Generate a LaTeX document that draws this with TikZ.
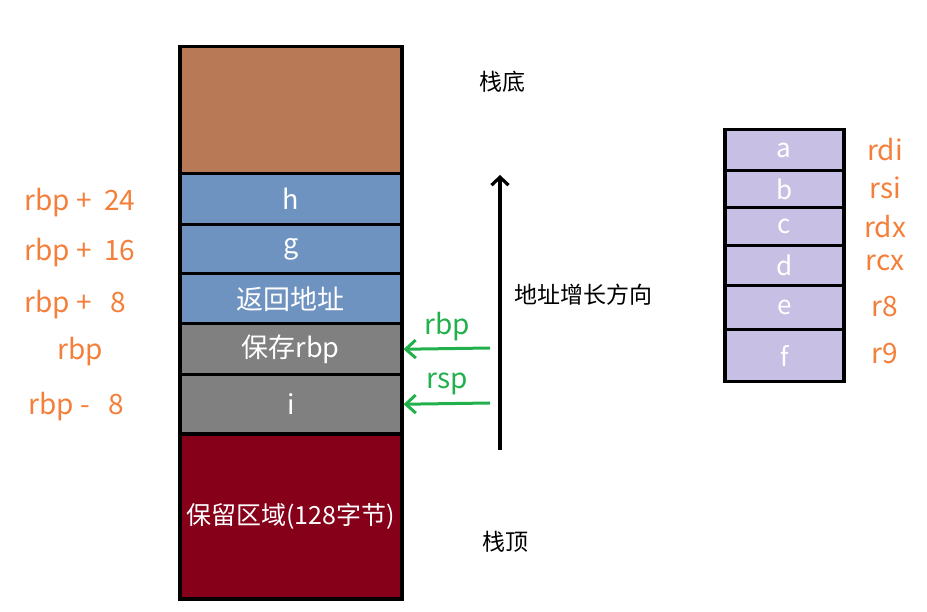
\documentclass[tikz,border=0pt]{standalone}
\usepackage{fontspec}
\setmainfont{Noto Sans CJK SC}
\usetikzlibrary{arrows.meta,positioning}
\definecolor{frameBrown}{HTML}{B87A56}
\definecolor{argBlue}{HTML}{6F93C0}
\definecolor{saveGray}{HTML}{808080}
\definecolor{redZone}{HTML}{86001A}
\definecolor{regLav}{HTML}{C8C0E4}
\definecolor{offOrange}{HTML}{F47F3A}
\definecolor{ptrGreen}{HTML}{22B04C}

\begin{document}
\begin{tikzpicture}[x=1pt,y=-1pt]
% styles
\tikzset{cell/.style={draw=black,line width=3.5pt,minimum width=222pt,inner sep=0pt,anchor=north west,text=white,font=\fontsize{27}{27}\selectfont},
  reg/.style={draw=black,line width=3.5pt,minimum width=119pt,inner sep=0pt,anchor=north west,fill=regLav,text=white,font=\fontsize{26}{26}\selectfont},
  offset/.style={text=offOrange,font=\fontsize{28}{28}\selectfont,inner sep=0pt},
  regname/.style={text=offOrange,font=\fontsize{28}{28}\selectfont,inner sep=0pt},
  note/.style={text=black,font=\fontsize{23}{23}\selectfont,inner sep=0pt},
  ptr/.style={draw=ptrGreen,line width=3pt,-{Straight Barb[length=10pt,width=18pt]}}}
\useasboundingbox (0,0) rectangle (927,612);

% stack frame
\node[cell,fill=frameBrown,minimum height=127pt] (base) at (178,45) {};
\node[cell,fill=argBlue,minimum height=51pt] (h) at (178,172) {h};
\node[cell,fill=argBlue,minimum height=49pt] (g) at (178,223) {g};
\node[cell,fill=argBlue,minimum height=50pt] (ret) at (178,272) {返回地址};
\node[cell,fill=saveGray,minimum height=51pt] (save) at (178,322) {保存rbp};
\node[cell,fill=saveGray,minimum height=59pt] (i) at (178,373) {i};
\node[cell,fill=redZone,minimum height=165pt,font=\fontsize{25}{25}\selectfont] (red) at (178,432) {保留区域(128字节)};

% offsets from rbp
\node[offset,anchor=west] (off24) at (24,203) {rbp + \ 24};
\node[offset,anchor=west] (off16) at (24,253) {rbp + \ 16};
\node[offset,anchor=west] (off8) at (24,305) {rbp + \ \ 8};
\node[offset] (off0) at (80,352) {rbp};
\node[offset,anchor=west] (offm8) at (28,407) {rbp - \ \ 8};

% rbp / rsp pointers
\coordinate (rbp-from) at (490,348);
\coordinate (rsp-from) at (490,403);
\draw[ptr] (rbp-from) -- (save.east);
\draw[ptr] (rsp-from) -- (i.east);
\node[offset,text=ptrGreen] (rbp-lbl) at (447,327) {rbp};
\node[offset,text=ptrGreen] (rsp-lbl) at (447,384) {rsp};

% growth direction
\coordinate (grow-from) at (500,450);
\coordinate (grow-to) at (500,175);
\draw[line width=3.2pt,-{Straight Barb[length=8pt,width=17pt]}] (grow-from) -- (grow-to);
\node[note,anchor=west] (grow) at (514,295) {地址增长方向};
\node[note] (bottom) at (502,82) {栈底};
\node[note] (top) at (505,542) {栈顶};

% argument registers
\foreach \name/\y/\h/\r/\ry in {a/128/41/rdi/150, b/169/37/rsi/188, c/206/38/rdx/227, d/244/40/rcx/263, e/284/44/r8/307, f/328/52/r9/354}{
  \node[reg,minimum height=\h pt] (R-\name) at (723,\y) {\name};
  \node[regname] (N-\name) at (885,\ry) {\r};
}
\end{tikzpicture}
\end{document}
